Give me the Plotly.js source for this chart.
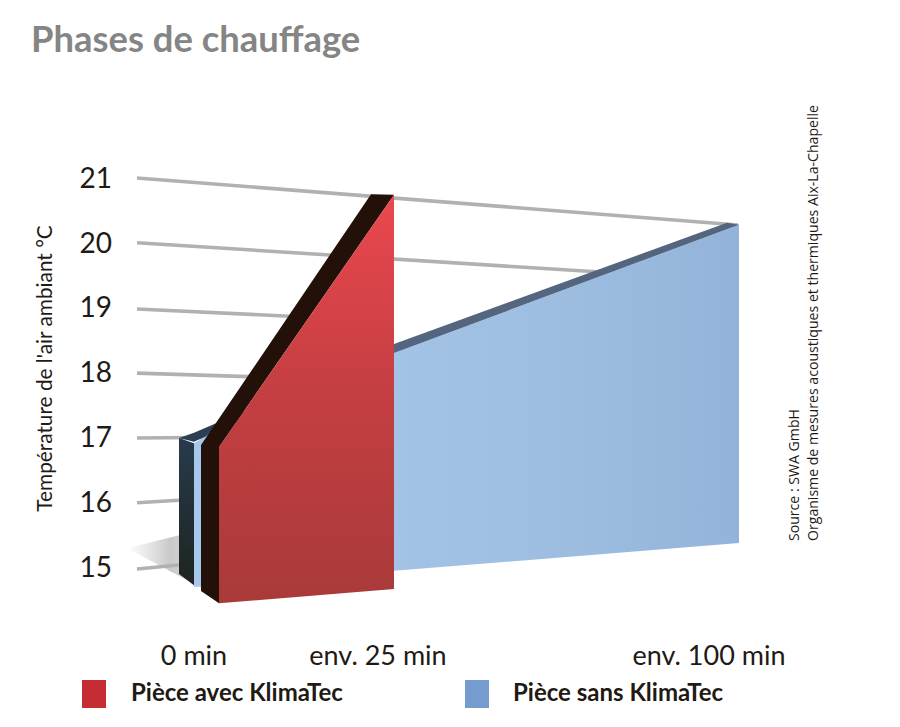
<!DOCTYPE html>
<html><head><meta charset="utf-8">
<script src="https://cdn.plot.ly/plotly-3.0.1.min.js"></script>
<style>html,body{margin:0;padding:0;background:#fff}</style></head>
<body><div id="chart" style="width:900px;height:727px"></div>
<script>
// x is the drawing's depth-skewed time axis, y is temperature in °C
const tempTicks = [15,16,17,18,19,20,21];
const timeTickPos = [194,378,709];
const timeTickLabels = ['0 min','env. 25 min','env. 100 min'];

const gridX = [[137,179],[137,179],[137,230],[137,260],[137,300],[137,600],[137,738]];
const gridTemp = [[14.97,15.03],[15.99,16.03],[16.99,17.0],[17.99,17.93],[18.98,18.86],[20.0,19.55],[21.0,20.275]];

const shadowX = [127,179,205];
const shadowTemp = [15.29,15.49,14.65];

const blueFaceX = [194,194,205,394,739,739,394];
const blueFaceTemp = [14.69,16.91,17.01,18.30,20.28,15.37,14.94];
const blueSideX = [179,179,194,194];
const blueSideTemp = [14.89,16.99,16.91,14.72];
const blueEdgeNearX = [179,194,215,218,205,194];
const blueEdgeNearTemp = [16.99,17.07,17.21,17.2,17.01,16.93];
const blueEdgeFarX = [205,215,394,727,739,394];
const blueEdgeFarTemp = [17.01,17.21,18.44,20.31,20.28,18.30];

const redFaceX = [219,394,394,219];
const redFaceTemp = [16.85,20.74,14.66,14.44];
const redSideX = [201,201,371,394,219,219];
const redSideTemp = [14.63,16.88,20.75,20.74,16.85,14.44];

const seriesNames = ['Pièce avec KlimaTec','Pièce sans KlimaTec'];
const seriesColors = ['#c52c33','#769bce'];

const poly = (x,y,extra) => Object.assign({x:x.concat(x[0]),y:y.concat(y[0]),mode:'lines',line:{width:0},fill:'toself',hoverinfo:'skip',showlegend:false},extra);

const traces = [];
traces.push(poly(shadowX,shadowTemp,{fillcolor:'#ccc',fillgradient:{type:'horizontal',colorscale:[[0,'rgba(205,205,205,0)'],[0.55,'rgba(198,198,198,0.95)'],[1,'rgba(215,215,215,0.8)']]}}));
gridX.forEach((gx,i)=>traces.push({x:gx,y:gridTemp[i],mode:'lines',line:{color:'#b1b1b1',width:3.6},hoverinfo:'skip',showlegend:false}));
traces.push(poly(blueFaceX,blueFaceTemp,{fillcolor:'#9dbde2',fillgradient:{type:'horizontal',colorscale:[[0,'#a6c8ec'],[0.55,'#a0c0e3'],[1,'#93b3da']]}}));
traces.push(poly(blueSideX,blueSideTemp,{fillcolor:'#233',fillgradient:{type:'vertical',colorscale:[[0,'#1e2420'],[1,'#283a4b']]}}));
traces.push(poly(blueEdgeFarX,blueEdgeFarTemp,{fillcolor:'#54657f'}));
traces.push(poly(blueEdgeNearX,blueEdgeNearTemp,{fillcolor:'#2c3f52'}));
traces.push(poly(redSideX,redSideTemp,{fillcolor:'#231008'}));
traces.push(poly(redFaceX,redFaceTemp,{fillcolor:'#c43f42',fillgradient:{type:'vertical',colorscale:[[0,'#a93a3a'],[0.5,'#c33e42'],[1,'#ea484e']]}}));

const tfont = 'Lato, "Noto Sans", sans-serif';
const L=115,R=840,T=100,B=637;
const px = v => (v-L)/(R-L);
const py = v => (B-v)/(B-T);
const layout = {
  width:900,height:727,paper_bgcolor:'#fff',plot_bgcolor:'#fff',showlegend:false,
  margin:{l:L,r:900-R,t:T,b:727-B},
  title:{text:'<b>Phases de chauffage</b>',x:31/900,xanchor:'left',y:1-39/727,yanchor:'middle',font:{family:tfont,size:36.4,color:'#858585'}},
  xaxis:{range:[L,R],showgrid:false,zeroline:false,showline:false,ticks:'',tickmode:'array',tickvals:timeTickPos,ticktext:timeTickLabels,tickfont:{family:tfont,size:27,color:'#1f1a14'},fixedrange:true},
  yaxis:{range:[13.920,22.203],showgrid:false,zeroline:false,showline:false,ticks:'',tickmode:'array',tickvals:tempTicks,ticktext:tempTicks.map(String),tickfont:{family:tfont,size:28,color:'#1f1a14'},ticklabelstandoff:2,fixedrange:true,
    title:{text:'Température de l\'air ambiant °C',font:{family:tfont,size:20.8,color:'#1f1a14'},standoff:21}},
  shapes:[
    {type:'rect',xref:'paper',yref:'paper',x0:px(82),x1:px(106),y0:py(708),y1:py(680),fillcolor:seriesColors[0],line:{width:0}},
    {type:'rect',xref:'paper',yref:'paper',x0:px(465),x1:px(489),y0:py(708),y1:py(680),fillcolor:seriesColors[1],line:{width:0}}
  ],
  annotations:[
    {text:'<b>'+seriesNames[0]+'</b>',xref:'paper',yref:'paper',x:px(129),y:py(691),xanchor:'left',yanchor:'middle',showarrow:false,font:{family:tfont,size:24,color:'#1f1a14'}},
    {text:'<b>'+seriesNames[1]+'</b>',xref:'paper',yref:'paper',x:px(511),y:py(691),xanchor:'left',yanchor:'middle',showarrow:false,font:{family:tfont,size:24,color:'#1f1a14'}},
    {text:'Source : SWA GmbH',xref:'paper',yref:'paper',x:px(793),y:py(543),xanchor:'center',yanchor:'bottom',textangle:-90,showarrow:false,font:{family:'"Open Sans", sans-serif',size:14.1,color:'#1f1a14'}},
    {text:'Organisme de mesures acoustiques et thermiques Aix-La-Chapelle',xref:'paper',yref:'paper',x:px(812),y:py(543),xanchor:'center',yanchor:'bottom',textangle:-90,showarrow:false,font:{family:'"Open Sans", sans-serif',size:14.1,color:'#1f1a14'}}
  ]
};
Plotly.newPlot('chart',traces,layout,{displayModeBar:false,staticPlot:true});
</script></body></html>
